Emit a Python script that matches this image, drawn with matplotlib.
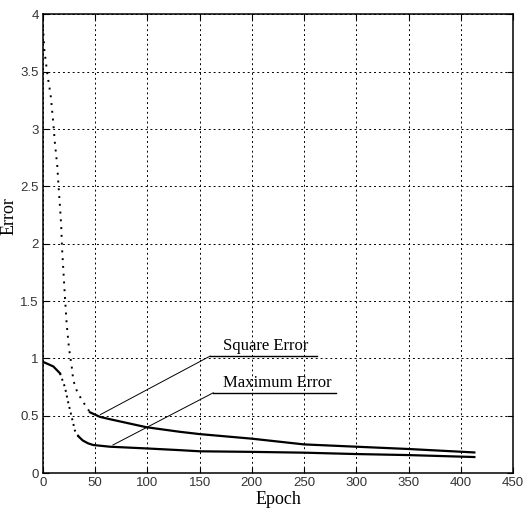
import numpy as np
import matplotlib
matplotlib.use('Agg')
import matplotlib.pyplot as plt

# values
epoch_sq = [0, 1.3, 4.5, 7.3, 9.9, 11.5, 13.7, 14.7, 16.3, 17.5, 18.2, 21, 22.7, 24.9,
            27.5, 29, 32.3, 37, 45, 54.6, 64, 99, 131, 150, 200, 250, 300, 350, 413]
sq_err = [3.9, 3.69, 3.46, 3.30, 3.05, 2.87, 2.68, 2.53, 2.32, 2.15, 1.97, 1.54, 1.30, 1.09,
          0.93, 0.81, 0.72, 0.64, 0.53, 0.49, 0.47, 0.40, 0.36, 0.34, 0.30, 0.25, 0.23, 0.21, 0.18]

epoch_max = [0, 9.9, 16.3, 21, 24.3, 27.5, 30.6, 34, 38, 43, 48, 64, 99, 131, 150, 200, 250, 300, 350, 413]
max_err = [0.97, 0.93, 0.87, 0.75, 0.61, 0.49, 0.37, 0.32, 0.285, 0.26, 0.245, 0.23, 0.215, 0.20, 0.19,
           0.185, 0.178, 0.166, 0.157, 0.14]

x_ticks = [0, 50, 100, 150, 200, 250, 300, 350, 400, 450]
y_ticks = [0, 0.5, 1, 1.5, 2, 2.5, 3, 3.5, 4]
y_tick_labels = ['0', '0.5', '1', '1.5', '2', '2.5', '3', '3.5', '4']

serif = ['Liberation Serif', 'DejaVu Serif']
sans = ['Liberation Sans', 'DejaVu Sans']

fig = plt.figure(figsize=(5.24, 5.12), dpi=100)
ax = fig.add_axes([0.082, 0.076, 0.897, 0.896])

# steep parts look dotted in the scan, flat parts solid
ax.plot(epoch_sq[:19], sq_err[:19], color='black', lw=1.4, linestyle=(0, (1, 3)))
ax.plot(epoch_sq[18:], sq_err[18:], color='black', lw=1.6)
ax.plot(epoch_max[:3], max_err[:3], color='black', lw=1.6)
ax.plot(epoch_max[2:8], max_err[2:8], color='black', lw=1.4, linestyle=(0, (1, 2)))
ax.plot(epoch_max[7:], max_err[7:], color='black', lw=1.6)

# labels with underline and leader line
labels = ['Square Error', 'Maximum Error']
label_x = [213, 224]
label_y = [1.035, 0.715]
under_x0 = [160, 163]
under_x1 = [262, 281]
under_y = [1.02, 0.70]
target_x = [55, 67]
target_y = [0.51, 0.245]
for i in range(2):
    ax.text(label_x[i], label_y[i], labels[i], ha='center', va='bottom',
            fontsize=12, family=serif)
    ax.plot([under_x0[i], under_x1[i]], [under_y[i], under_y[i]], color='black', lw=1)
    ax.plot([target_x[i], under_x0[i]], [target_y[i], under_y[i]], color='black', lw=0.7)

ax.set_xlim(0, 450)
ax.set_ylim(0, 4)
ax.set_xticks(x_ticks)
ax.set_yticks(y_ticks)
ax.set_yticklabels(y_tick_labels)
ax.grid(True, color='black', linestyle=(0, (2, 3)), lw=0.7)
ax.tick_params(direction='in', top=True, right=True, length=4, labelsize=9.5,
               labelcolor='#333333', pad=3)
for lab in ax.get_xticklabels() + ax.get_yticklabels():
    lab.set_family(sans)
for s in ax.spines.values():
    s.set_linewidth(1.1)

ax.set_xlabel('Epoch', fontsize=13, family=serif, labelpad=1)
ax.set_ylabel('Error', fontsize=13, family=serif)
ax.yaxis.set_label_coords(-0.055, 0.56)

fig.savefig('out.png', dpi=100)
